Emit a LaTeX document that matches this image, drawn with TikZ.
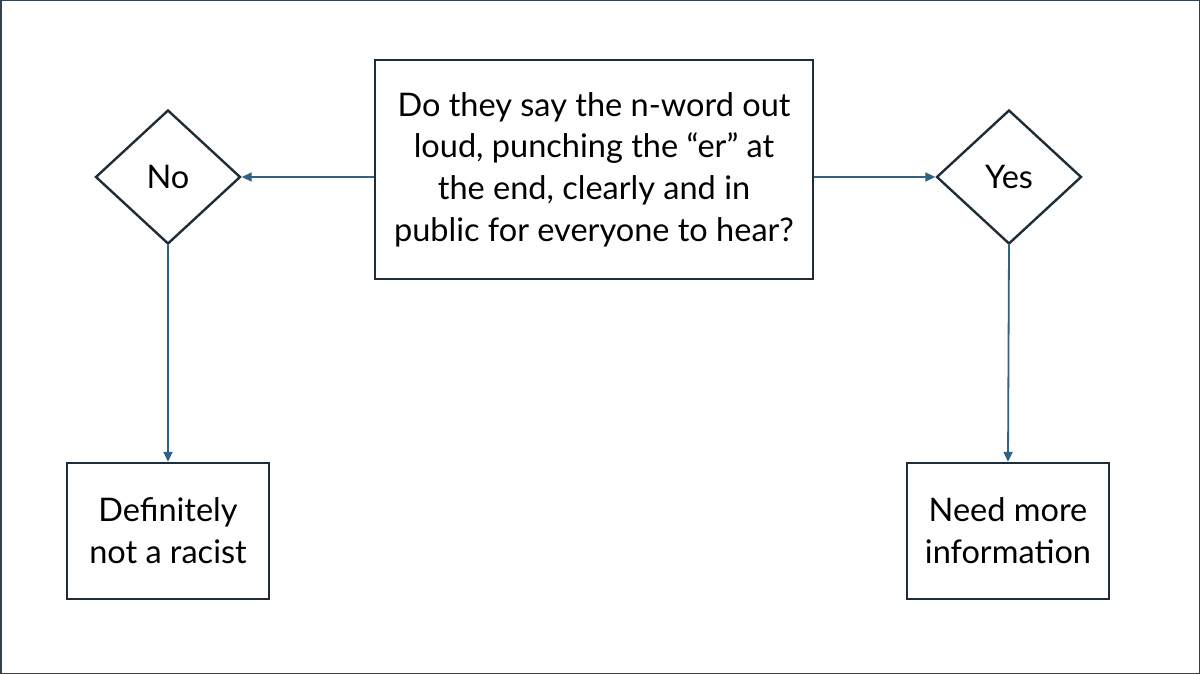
\documentclass[tikz,border=0pt]{standalone}
\usepackage{fontspec}
\setmainfont{Lato}
\usetikzlibrary{shapes.geometric,arrows.meta,positioning}
\definecolor{boxline}{HTML}{1E2D38}
\definecolor{arrowline}{HTML}{2E6384}

\begin{document}
\begin{tikzpicture}[x=1pt,y=-1pt,
  txt/.style={font=\fontsize{32.5}{41.7}\selectfont, align=center, text=black},
  qbox/.style={draw=boxline, line width=2.4pt, rectangle, inner sep=0pt, txt},
  choice/.style={draw=boxline, line width=2.4pt, diamond, inner sep=0pt, minimum width=145pt, minimum height=134pt, txt},
  flow/.style={draw=arrowline, line width=1.8pt, -{Triangle[length=10pt,width=9pt]}}]
\useasboundingbox (0,0) rectangle (1200,674);
\draw[boxline!90, line width=1.5pt] (0.75,0.75) rectangle (1199.25,673.25);
% question in the middle
\node[qbox, minimum width=438pt, minimum height=219pt] (q) at (594,169.5)
  {Do they say the n-word out\\loud, punching the “er” at\\the end, clearly and in\\public for everyone to hear?};
% the two answers
\node[choice] (no) at (168,177) {No};
\node[choice] (yes) at (1009,177) {Yes};
% outcomes
\node[qbox, minimum width=202pt, minimum height=136pt] (nores) at (168,531)
  {Definitely\\not a racist};
\node[qbox, minimum width=202pt, minimum height=136pt] (yesres) at (1008,531)
  {Need more\\information};
% connectors
\draw[flow] (no.east -| q.west) -- (no.east);
\draw[flow] (yes.west -| q.east) -- (yes.west);
\draw[flow] (no.south) -- (nores.north);
\draw[flow] (yes.south) -- (yesres.north);
\end{tikzpicture}
\end{document}
